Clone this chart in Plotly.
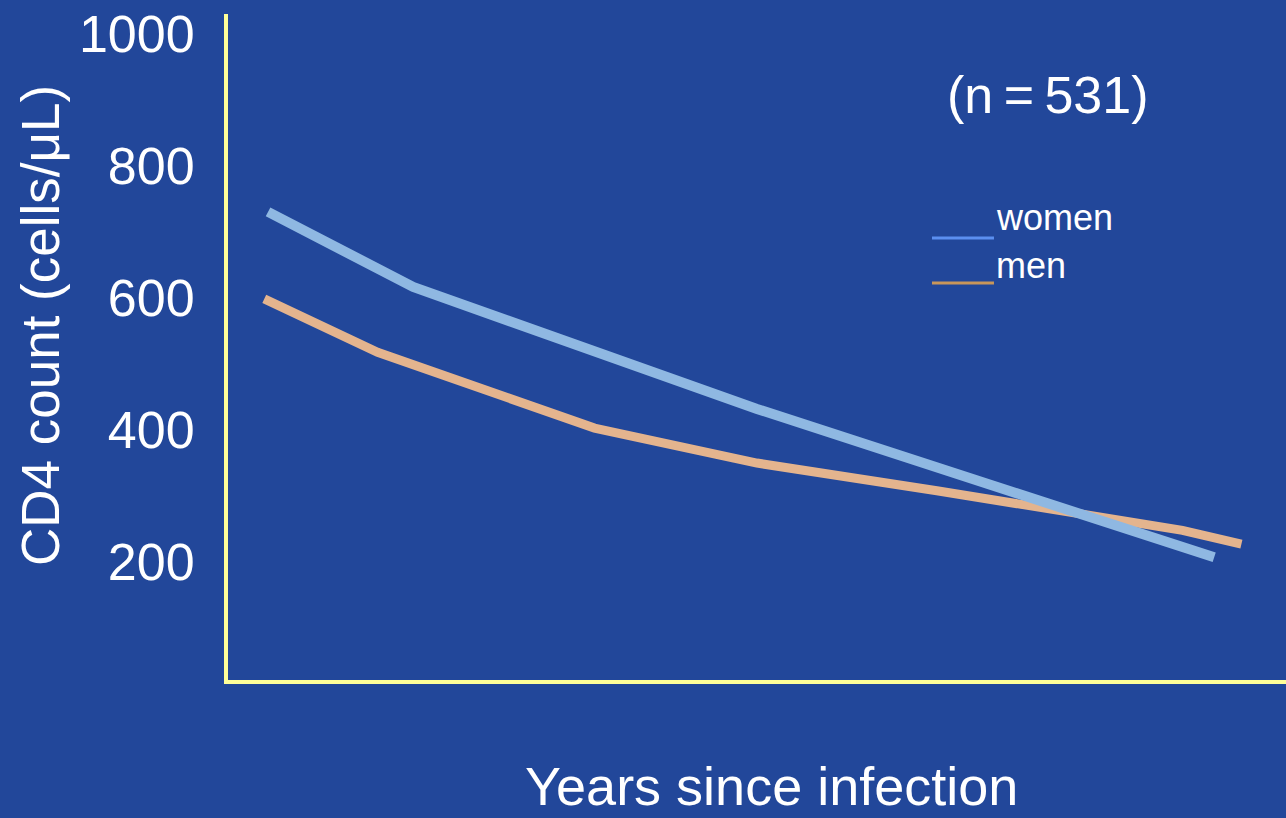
import plotly.graph_objects as go

# CD4 decline after infection, by sex
years_women = [0.53, 2.45, 7.0, 13.05]
cd4_women = [730, 616, 431, 206]

years_men = [0.48, 1.98, 4.85, 7.0, 9.38, 12.63, 13.41]
cd4_men = [598, 517, 402, 349, 307, 247, 226]

y_ticks = [200, 400, 600, 800, 1000]
legend_labels = ["women", "men"]

BG = "#22479A"
AXIS = "#FFFF99"
WOMEN = "#8FB8E2"
MEN = "#E4B48E"
WOMEN_KEY = "#5B8FF0"
MEN_KEY = "#C8965A"
FONT = "Liberation Sans, Arial, sans-serif"

fig = go.Figure()
fig.add_trace(go.Scatter(x=years_men, y=cd4_men, mode="lines",
                         line=dict(color=MEN, width=9), name="men",
                         showlegend=False, hoverinfo="skip"))
fig.add_trace(go.Scatter(x=years_women, y=cd4_women, mode="lines",
                         line=dict(color=WOMEN, width=10), name="women",
                         showlegend=False, hoverinfo="skip"))

fig.update_layout(
    width=1286, height=818,
    margin=dict(l=228, r=0, t=14, b=138),
    paper_bgcolor=BG, plot_bgcolor=BG,
    font=dict(family=FONT, color="white"),
    xaxis=dict(range=[0, 14], showgrid=False, zeroline=False,
               showticklabels=False, ticks="",
               showline=True, linecolor=AXIS, linewidth=4),
    yaxis=dict(range=[20, 1030], showgrid=False, zeroline=False,
               tickvals=y_ticks, ticktext=[str(v) for v in y_ticks],
               tickfont=dict(size=52, color="white", family=FONT),
               ticks="outside", ticklen=19, tickcolor=BG,
               showline=True, linecolor=AXIS, linewidth=4),
)

# axis titles and sample size
fig.add_annotation(text="CD4 count (cells/μL)", xref="paper", yref="paper",
                   x=-0.1777, y=0.533, textangle=-90, showarrow=False,
                   font=dict(size=53, color="white", family=FONT),
                   xanchor="center", yanchor="middle")
fig.add_annotation(text="Years since infection", xref="paper", yref="paper",
                   x=0.514, y=-0.1592, showarrow=False,
                   font=dict(size=54, color="white", family=FONT),
                   xanchor="center", yanchor="middle")
fig.add_annotation(text="(n\u2009=\u2009531)", xref="paper", yref="paper",
                   x=0.775, y=0.878, showarrow=False,
                   font=dict(size=52, color="white", family=FONT),
                   xanchor="center", yanchor="middle")

# legend: coloured underline followed by label
key_colors = [WOMEN_KEY, MEN_KEY]
key_line_y = [0.6637, 0.5961]
key_text_y = [0.6937, 0.6231]
for label, col, ly, ty in zip(legend_labels, key_colors, key_line_y, key_text_y):
    fig.add_shape(type="line", xref="paper", yref="paper",
                  x0=0.6654, x1=0.724, y0=ly, y1=ly,
                  line=dict(color=col, width=3))
    fig.add_annotation(text=label, xref="paper", yref="paper",
                       x=0.724, y=ty, showarrow=False,
                       font=dict(size=36, color="white", family=FONT),
                       xanchor="left", yanchor="middle")

fig.write_html("out.html")
